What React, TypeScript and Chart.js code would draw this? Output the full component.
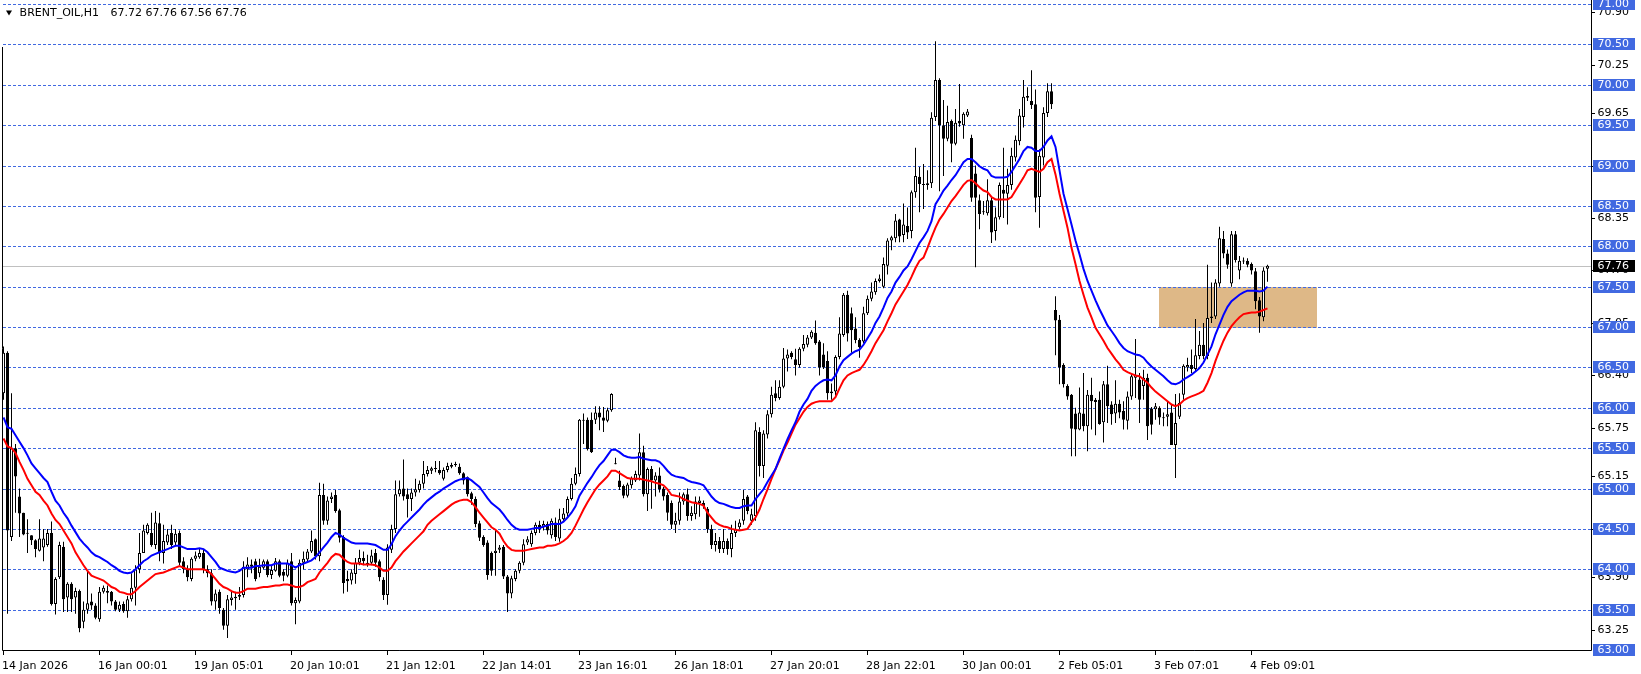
import React, { useEffect, useRef } from 'react';
import { Chart, registerables } from 'chart.js';

Chart.register(...registerables);

// ---- Data (H1 bars, index 0 .. 316) ----
const opens = [
  66.18, 66.68, 64.40, 65.50, 64.90, 64.70, 64.45, 64.42, 64.36, 64.23,
  64.27, 64.30, 64.45, 63.57, 63.90, 64.28, 63.65, 63.82, 63.65, 63.73,
  63.35, 63.50, 63.60, 63.55, 63.38, 63.72, 63.73, 63.72, 63.60, 63.50,
  63.57, 63.48, 63.63, 63.77, 64.00, 64.20, 64.45, 64.45, 64.30, 64.57,
  64.20, 64.33, 64.45, 64.33, 64.45, 64.10, 64.00, 63.88, 64.13, 64.15,
  64.20, 64.00, 63.95, 63.60, 63.72, 63.50, 63.30, 63.62, 63.64, 63.66,
  63.68, 64.00, 64.06, 64.10, 63.95, 64.02, 64.10, 63.93, 63.98, 64.10,
  63.97, 63.92, 64.10, 63.58, 63.60, 64.08, 64.12, 64.22, 64.37, 64.16,
  64.92, 64.60, 64.87, 64.92, 64.73, 64.40, 63.88, 63.86, 63.94, 64.08,
  64.14, 64.08, 64.08, 64.20, 64.10, 63.87, 63.68, 64.24, 64.50, 64.93,
  65.00, 64.93, 64.87, 64.95, 64.98, 65.06, 65.18, 65.22, 65.24, 65.23,
  65.12, 65.23, 65.27, 65.29, 65.27, 65.19, 65.14, 64.94, 64.87, 64.57,
  64.40, 64.33, 64.20, 64.20, 64.24, 64.28, 63.91, 63.70, 63.88, 63.98,
  64.08, 64.33, 64.31, 64.45, 64.55, 64.52, 64.56, 64.42, 64.58, 64.38,
  64.62, 64.69, 64.87, 65.06, 65.18, 65.84, 65.85, 65.85, 65.85, 65.94,
  65.88, 65.84, 65.97, 65.30, 65.10, 65.03, 64.91, 65.04, 65.10, 65.16,
  65.45, 64.93, 65.24, 65.10, 65.16, 65.00, 64.92, 64.82, 64.55, 64.60,
  64.84, 64.93, 64.66, 64.68, 64.82, 64.82, 64.75, 64.50, 64.30, 64.35,
  64.25, 64.35, 64.25, 64.45, 64.52, 64.60, 64.90, 64.60, 64.66, 65.70,
  65.28, 65.67, 65.92, 66.18, 66.12, 66.26, 66.61, 66.68, 66.60, 66.53,
  66.73, 66.78, 66.87, 66.93, 66.82, 66.66, 66.58, 66.18, 66.20, 66.63,
  66.90, 67.40, 67.17, 66.98, 66.84, 66.82, 67.17, 67.35, 67.43, 67.57,
  67.50, 67.76, 68.07, 68.10, 68.33, 68.14, 68.25, 68.19, 68.67, 68.86,
  68.77, 68.76, 68.78, 69.60, 70.06, 69.50, 69.33, 69.55, 69.27, 69.55,
  69.50, 69.62, 69.34, 68.90, 68.57, 68.42, 68.41, 68.57, 68.19, 68.36,
  68.70, 68.65, 68.76, 69.10, 69.30, 69.60, 69.84, 69.80, 69.76, 68.61,
  69.10, 69.65, 69.92, 67.21, 67.09, 66.53, 66.27, 66.16, 65.93, 65.73,
  65.93, 65.77, 66.16, 66.10, 66.10, 65.82, 66.29, 66.04, 65.93, 66.05,
  65.96, 65.84, 66.14, 66.37, 66.35, 66.27, 66.37, 65.99, 65.98, 66.00,
  65.87, 65.89, 65.94, 65.54, 65.89, 66.16, 66.50, 66.53, 66.48, 66.64,
  66.78, 66.64, 67.11, 67.13, 67.54, 68.09, 67.91, 67.54, 68.15, 67.70,
  67.82, 67.82, 67.78, 67.69, 67.33, 67.12, 67.72,
];

const highs = [
  66.76, 66.70, 66.18, 65.55, 65.00, 64.70, 64.62, 64.42, 64.37, 64.62,
  64.50, 64.50, 64.59, 63.90, 64.34, 64.34, 63.84, 63.84, 63.77, 63.75,
  63.60, 63.98, 63.70, 63.58, 63.78, 63.80, 63.80, 63.73, 63.62, 63.60,
  63.60, 63.67, 63.95, 64.05, 64.45, 64.55, 64.57, 64.70, 64.72, 64.70,
  64.55, 64.50, 64.55, 64.50, 64.48, 64.15, 64.05, 64.15, 64.22, 64.25,
  64.25, 64.05, 64.00, 63.75, 63.75, 63.52, 63.68, 63.73, 63.72, 63.78,
  64.10, 64.15, 64.12, 64.13, 64.13, 64.12, 64.12, 64.05, 64.14, 64.12,
  64.00, 64.12, 64.20, 63.65, 64.12, 64.22, 64.25, 64.48, 64.38, 65.07,
  65.06, 64.90, 64.95, 64.98, 64.75, 64.42, 63.98, 64.00, 64.14, 64.24,
  64.22, 64.18, 64.24, 64.25, 64.12, 63.90, 64.31, 64.55, 65.10, 65.10,
  65.36, 65.00, 65.00, 65.12, 65.10, 65.34, 65.28, 65.27, 65.34, 65.34,
  65.26, 65.32, 65.32, 65.33, 65.31, 65.20, 65.15, 64.96, 64.90, 64.60,
  64.42, 64.36, 64.22, 64.50, 64.30, 64.30, 63.93, 63.92, 64.00, 64.10,
  64.37, 64.41, 64.48, 64.58, 64.60, 64.60, 64.59, 64.63, 64.64, 64.75,
  64.76, 64.90, 65.13, 65.26, 65.86, 65.93, 65.88, 65.94, 66.02, 66.02,
  66.01, 66.00, 66.18, 65.38, 65.22, 65.05, 65.07, 65.15, 65.22, 65.68,
  65.53, 65.26, 65.28, 65.20, 65.26, 65.02, 64.95, 64.85, 64.70, 64.95,
  64.95, 65.00, 64.78, 64.90, 64.90, 64.85, 64.77, 64.55, 64.45, 64.40,
  64.50, 64.38, 64.55, 64.60, 64.62, 64.98, 64.92, 64.75, 65.82, 65.76,
  65.72, 65.97, 66.26, 66.34, 66.34, 66.74, 66.72, 66.70, 66.73, 66.75,
  66.90, 66.90, 66.96, 67.08, 66.84, 66.80, 66.70, 66.30, 66.65, 67.12,
  67.42, 67.45, 67.24, 67.12, 66.86, 67.25, 67.39, 67.55, 67.60, 67.65,
  67.86, 68.10, 68.13, 68.40, 68.34, 68.53, 68.48, 68.69, 69.22, 68.98,
  69.02, 68.94, 69.66, 70.54, 70.08, 69.81, 69.74, 69.57, 69.70, 70.01,
  69.66, 69.70, 69.38, 69.00, 68.64, 68.56, 68.83, 68.60, 68.48, 68.79,
  69.22, 68.96, 69.22, 69.37, 69.70, 70.06, 69.97, 70.18, 69.94, 69.20,
  69.72, 70.02, 70.02, 67.38, 67.15, 66.55, 66.29, 66.17, 66.00, 66.25,
  66.43, 66.22, 66.37, 66.12, 66.20, 66.33, 66.52, 66.08, 66.34, 66.10,
  66.08, 66.20, 66.43, 66.85, 66.43, 66.47, 66.42, 66.01, 66.06, 66.02,
  65.94, 66.08, 66.04, 66.17, 66.18, 66.54, 66.62, 66.72, 67.10, 66.95,
  67.05, 67.77, 67.55, 67.59, 68.24, 68.19, 67.96, 68.19, 68.19, 67.88,
  67.86, 67.85, 67.80, 67.73, 67.37, 67.74, 67.77,
];

const lows = [
  66.10, 63.45, 64.35, 64.70, 64.40, 64.42, 64.20, 64.30, 64.15, 64.22,
  64.10, 64.28, 63.55, 63.44, 63.88, 63.47, 63.47, 63.47, 63.45, 63.22,
  63.27, 63.45, 63.50, 63.38, 63.35, 63.70, 63.58, 63.55, 63.48, 63.47,
  63.46, 63.40, 63.60, 63.55, 63.95, 64.20, 64.43, 64.28, 64.25, 64.10,
  64.07, 64.30, 64.25, 64.30, 64.05, 63.95, 63.85, 63.85, 64.10, 64.13,
  63.95, 63.90, 63.55, 63.50, 63.45, 63.25, 63.15, 63.55, 63.50, 63.62,
  63.65, 63.90, 63.95, 63.85, 63.90, 64.00, 63.90, 63.88, 63.97, 63.90,
  63.85, 63.90, 63.55, 63.32, 63.58, 64.00, 64.10, 64.20, 64.12, 64.10,
  64.55, 64.55, 64.82, 64.70, 64.33, 63.70, 63.72, 63.81, 63.82, 64.05,
  64.05, 64.03, 64.05, 64.03, 63.85, 63.62, 63.56, 64.20, 64.45, 64.90,
  64.85, 64.64, 64.72, 64.90, 64.95, 65.00, 65.15, 65.18, 65.20, 65.17,
  65.10, 65.20, 65.25, 65.27, 65.17, 65.05, 64.90, 64.80, 64.52, 64.35,
  64.28, 63.87, 63.92, 63.92, 64.20, 63.88, 63.47, 63.64, 63.85, 63.95,
  64.05, 64.30, 64.28, 64.42, 64.45, 64.48, 64.43, 64.38, 64.35, 64.34,
  64.60, 64.65, 64.85, 65.04, 65.15, 65.55, 65.47, 65.44, 65.80, 65.72,
  65.70, 65.82, 65.95, 65.30, 64.98, 64.88, 64.89, 65.00, 65.08, 65.10,
  64.90, 64.72, 64.75, 64.90, 64.95, 64.85, 64.60, 64.50, 64.45, 64.55,
  64.80, 64.60, 64.60, 64.62, 64.65, 64.75, 64.45, 64.25, 64.22, 64.20,
  64.20, 64.18, 64.15, 64.40, 64.50, 64.55, 64.68, 64.55, 64.60, 65.15,
  65.13, 65.62, 65.88, 66.08, 66.10, 66.24, 66.45, 66.60, 66.40, 66.50,
  66.70, 66.75, 66.85, 66.78, 66.40, 66.48, 66.10, 66.10, 66.15, 66.60,
  66.88, 66.82, 66.68, 66.80, 66.62, 66.80, 67.15, 67.32, 67.40, 67.55,
  67.48, 67.65, 67.95, 68.05, 68.05, 68.05, 68.09, 68.10, 68.60, 68.42,
  68.46, 68.70, 68.72, 69.55, 68.68, 68.87, 69.30, 69.04, 69.25, 69.48,
  69.33, 69.60, 68.55, 67.74, 68.21, 68.39, 68.38, 68.04, 68.07, 68.33,
  68.35, 68.27, 68.70, 69.05, 69.25, 69.47, 69.80, 69.70, 68.42, 68.23,
  69.00, 69.60, 69.70, 66.65, 66.29, 66.25, 66.10, 65.40, 65.40, 65.72,
  65.71, 65.46, 65.73, 65.66, 65.79, 65.57, 65.81, 65.79, 65.81, 65.87,
  65.73, 65.73, 66.10, 66.12, 65.81, 66.10, 65.60, 65.67, 65.85, 65.79,
  65.77, 65.77, 65.54, 65.13, 65.86, 66.10, 66.45, 66.43, 66.45, 66.60,
  66.60, 66.60, 67.05, 67.10, 67.50, 67.85, 67.72, 67.50, 67.80, 67.59,
  67.78, 67.74, 67.65, 67.22, 66.93, 67.07, 67.56,
];

const closes = [
  66.68, 64.48, 65.50, 65.15, 64.69, 64.43, 64.44, 64.36, 64.25, 64.38,
  64.38, 64.45, 63.57, 63.88, 64.30, 63.63, 63.82, 63.63, 63.73, 63.27,
  63.50, 63.58, 63.55, 63.40, 63.72, 63.77, 63.71, 63.60, 63.50, 63.56,
  63.48, 63.63, 63.77, 64.00, 64.20, 64.48, 64.55, 64.30, 64.58, 64.20,
  64.35, 64.43, 64.30, 64.44, 64.08, 64.00, 63.90, 64.13, 64.17, 64.20,
  64.00, 63.95, 63.60, 63.70, 63.52, 63.30, 63.63, 63.65, 63.66, 63.68,
  64.03, 64.06, 64.03, 63.88, 64.03, 64.10, 63.93, 63.99, 64.10, 63.92,
  63.92, 64.08, 63.58, 63.62, 64.08, 64.13, 64.22, 64.35, 64.16, 64.92,
  64.60, 64.85, 64.90, 64.72, 64.39, 63.83, 63.85, 63.96, 64.08, 64.14,
  64.10, 64.06, 64.17, 64.08, 63.90, 63.68, 64.27, 64.50, 64.93, 64.99,
  64.90, 64.87, 64.95, 64.99, 65.06, 65.18, 65.23, 65.25, 65.25, 65.19,
  65.23, 65.28, 65.29, 65.30, 65.19, 65.10, 64.93, 64.87, 64.56, 64.39,
  64.30, 63.93, 63.98, 64.23, 64.27, 63.91, 63.70, 63.89, 63.98, 64.08,
  64.31, 64.37, 64.45, 64.55, 64.50, 64.56, 64.48, 64.60, 64.40, 64.62,
  64.69, 64.87, 65.06, 65.18, 65.85, 65.85, 65.49, 65.45, 65.94, 65.88,
  65.84, 65.97, 66.17, 65.30, 65.02, 64.91, 65.05, 65.13, 65.18, 65.45,
  64.93, 65.24, 65.10, 65.16, 64.99, 64.90, 64.70, 64.55, 64.60, 64.84,
  64.93, 64.66, 64.70, 64.84, 64.85, 64.78, 64.50, 64.30, 64.35, 64.25,
  64.35, 64.25, 64.45, 64.50, 64.58, 64.87, 64.72, 64.68, 65.72, 65.28,
  65.68, 65.92, 66.16, 66.12, 66.26, 66.61, 66.66, 66.63, 66.53, 66.73,
  66.79, 66.87, 66.94, 66.80, 66.50, 66.50, 66.18, 66.20, 66.63, 66.92,
  67.40, 66.92, 66.96, 66.84, 66.75, 67.17, 67.35, 67.44, 67.57, 67.60,
  67.78, 68.07, 68.11, 68.32, 68.12, 68.27, 68.17, 68.67, 68.87, 68.77,
  68.76, 68.78, 69.59, 70.06, 69.50, 69.33, 69.54, 69.27, 69.53, 69.52,
  69.64, 69.67, 68.60, 68.60, 68.40, 68.43, 68.57, 68.17, 68.36, 68.76,
  68.65, 68.76, 69.12, 69.32, 69.62, 69.85, 69.86, 69.75, 68.60, 69.12,
  69.65, 69.92, 69.76, 67.08, 66.50, 66.29, 66.14, 65.74, 65.73, 65.94,
  65.77, 66.16, 66.08, 66.07, 65.80, 66.29, 66.02, 65.92, 66.05, 65.94,
  65.85, 66.14, 66.39, 66.41, 66.10, 66.37, 65.77, 65.79, 66.02, 65.88,
  65.88, 65.92, 65.54, 65.81, 66.06, 66.52, 66.53, 66.48, 66.65, 66.78,
  66.64, 67.11, 67.13, 67.55, 68.10, 67.91, 67.77, 68.15, 67.83, 67.82,
  67.81, 67.77, 67.70, 67.32, 67.13, 67.70, 67.76,
];

// Moving averages as shown on the chart (blue = upper, red = lower)
const maBlue = [
  65.88, 65.76, 65.74, 65.66, 65.58, 65.50, 65.41, 65.31, 65.25, 65.19,
  65.13, 65.08, 64.96, 64.85, 64.79, 64.70, 64.63, 64.54, 64.46, 64.38,
  64.32, 64.27, 64.21, 64.17, 64.15, 64.12, 64.09, 64.05, 64.02, 63.98,
  63.96, 63.95, 63.96, 64.00, 64.05, 64.10, 64.13, 64.17, 64.19, 64.21,
  64.23, 64.25, 64.27, 64.29, 64.29, 64.27, 64.25, 64.25, 64.25, 64.26,
  64.25, 64.21, 64.15, 64.09, 64.02, 64.00, 63.98, 63.97, 63.96, 63.98,
  64.02, 64.02, 64.02, 64.04, 64.04, 64.05, 64.05, 64.05, 64.07, 64.07,
  64.07, 64.07, 64.05, 64.02, 64.05, 64.07, 64.09, 64.11, 64.15, 64.21,
  64.27, 64.33, 64.40, 64.45, 64.43, 64.39, 64.36, 64.33, 64.32, 64.32,
  64.32, 64.32, 64.31, 64.30, 64.27, 64.24, 64.24, 64.31, 64.41, 64.48,
  64.54, 64.59, 64.64, 64.69, 64.74, 64.80, 64.85, 64.89, 64.93, 64.96,
  65.00, 65.03, 65.06, 65.09, 65.11, 65.12, 65.13, 65.10, 65.06, 65.02,
  64.95, 64.88, 64.82, 64.78, 64.74, 64.68, 64.61, 64.55, 64.51, 64.49,
  64.49, 64.49, 64.50, 64.51, 64.51, 64.53, 64.54, 64.56, 64.56, 64.56,
  64.59, 64.64, 64.70, 64.78, 64.91, 64.99, 65.07, 65.14, 65.22, 65.29,
  65.34, 65.41, 65.48, 65.48, 65.45, 65.41, 65.39, 65.38, 65.38, 65.39,
  65.37, 65.36, 65.35, 65.35, 65.33, 65.28, 65.22, 65.17, 65.15, 65.14,
  65.13, 65.10, 65.08, 65.07, 65.06, 65.04, 64.97, 64.90, 64.85, 64.82,
  64.81, 64.79, 64.77, 64.76, 64.76, 64.78, 64.79, 64.79, 64.87, 64.93,
  64.99, 65.08, 65.16, 65.24, 65.37, 65.49, 65.61, 65.72, 65.82, 65.95,
  66.04, 66.11, 66.21, 66.27, 66.31, 66.34, 66.35, 66.34, 66.40, 66.51,
  66.59, 66.63, 66.67, 66.70, 66.72, 66.78, 66.86, 66.94, 67.05, 67.13,
  67.24, 67.36, 67.44, 67.55, 67.62, 67.70, 67.75, 67.84, 67.94, 68.04,
  68.11, 68.19, 68.31, 68.52, 68.60, 68.69, 68.75, 68.82, 68.88, 68.96,
  69.04, 69.08, 69.08, 69.04, 68.99, 68.96, 68.94, 68.87, 68.85, 68.85,
  68.85, 68.86, 68.92, 69.00, 69.08, 69.18, 69.23, 69.22, 69.18, 69.18,
  69.23, 69.31, 69.36, 69.23, 68.94, 68.65, 68.46, 68.27, 68.07, 67.90,
  67.72, 67.57, 67.45, 67.33, 67.22, 67.12, 67.02, 66.95, 66.88, 66.80,
  66.74, 66.70, 66.68, 66.66, 66.65, 66.62, 66.56, 66.51, 66.47, 66.43,
  66.39, 66.34, 66.30, 66.29, 66.31, 66.35, 66.38, 66.41, 66.45, 66.49,
  66.56, 66.66, 66.76, 66.91, 67.03, 67.15, 67.25, 67.32, 67.36, 67.40,
  67.43, 67.45, 67.45, 67.45, 67.44, 67.45, 67.50,
];

const maRed = [
  65.62, 65.52, 65.50, 65.44, 65.33, 65.23, 65.12, 65.04, 64.96, 64.92,
  64.85, 64.79, 64.69, 64.61, 64.56, 64.48, 64.40, 64.32, 64.21, 64.13,
  64.05, 63.98, 63.92, 63.90, 63.88, 63.86, 63.82, 63.78, 63.76, 63.72,
  63.71, 63.69, 63.69, 63.73, 63.78, 63.82, 63.86, 63.90, 63.94, 63.95,
  63.96, 63.98, 64.00, 64.02, 64.04, 64.02, 64.00, 64.00, 64.00, 64.00,
  64.00, 63.98, 63.94, 63.88, 63.82, 63.78, 63.76, 63.73, 63.71, 63.71,
  63.73, 63.76, 63.76, 63.76, 63.77, 63.78, 63.78, 63.79, 63.80, 63.80,
  63.81, 63.81, 63.80, 63.78, 63.78, 63.80, 63.84, 63.86, 63.88, 63.96,
  64.02, 64.08, 64.15, 64.19, 64.18, 64.13, 64.09, 64.07, 64.07, 64.07,
  64.06, 64.06, 64.06, 64.05, 64.02, 63.98, 63.98, 64.02, 64.10, 64.16,
  64.22, 64.27, 64.32, 64.37, 64.42, 64.47, 64.55, 64.60, 64.64, 64.68,
  64.72, 64.76, 64.80, 64.83, 64.85, 64.86, 64.86, 64.83, 64.77, 64.70,
  64.64, 64.58, 64.52, 64.49, 64.44, 64.35, 64.28, 64.24, 64.23, 64.23,
  64.23, 64.24, 64.25, 64.26, 64.27, 64.27, 64.29, 64.29, 64.30, 64.32,
  64.35, 64.39, 64.45, 64.54, 64.64, 64.74, 64.83, 64.91, 64.99, 65.05,
  65.10, 65.15, 65.22, 65.22, 65.19, 65.16, 65.13, 65.12, 65.12, 65.12,
  65.11, 65.10, 65.09, 65.07, 65.06, 65.04, 64.99, 64.92, 64.91, 64.90,
  64.87, 64.85, 64.83, 64.82, 64.81, 64.79, 64.70, 64.64, 64.58, 64.55,
  64.53, 64.52, 64.50, 64.49, 64.48, 64.49, 64.50, 64.58, 64.64, 64.74,
  64.87, 64.99, 65.12, 65.24, 65.35, 65.47, 65.57, 65.68, 65.79, 65.87,
  65.95, 66.01, 66.05, 66.07, 66.08, 66.08, 66.08, 66.08, 66.13, 66.24,
  66.34, 66.40, 66.43, 66.45, 66.47, 66.53, 66.61, 66.70, 66.80, 66.88,
  66.96, 67.07, 67.17, 67.28, 67.36, 67.44, 67.52, 67.62, 67.73, 67.82,
  67.86, 67.98, 68.11, 68.23, 68.33, 68.40, 68.48, 68.56, 68.62, 68.69,
  68.76, 68.81, 68.82, 68.78, 68.73, 68.69, 68.67, 68.61, 68.58, 68.58,
  68.58, 68.58, 68.61, 68.69, 68.77, 68.85, 68.94, 68.96, 68.94, 68.92,
  68.96, 69.04, 69.08, 68.89, 68.65, 68.44, 68.23, 67.98, 67.78, 67.57,
  67.40, 67.24, 67.12, 66.99, 66.91, 66.83, 66.74, 66.67, 66.60, 66.54,
  66.47, 66.44, 66.42, 66.40, 66.39, 66.35, 66.31, 66.25, 66.20, 66.16,
  66.12, 66.08, 66.04, 66.02, 66.04, 66.09, 66.12, 66.14, 66.16, 66.18,
  66.21, 66.31, 66.43, 66.58, 66.71, 66.83, 66.93, 67.01, 67.07, 67.12,
  67.16, 67.17, 67.18, 67.18, 67.19, 67.21, 67.23,
];

const timeLabels = [
  '14 Jan 2026', '16 Jan 00:01', '19 Jan 05:01', '20 Jan 10:01', '21 Jan 12:01',
  '22 Jan 14:01', '23 Jan 16:01', '26 Jan 18:01', '27 Jan 20:01', '28 Jan 22:01',
  '30 Jan 00:01', '2 Feb 05:01', '3 Feb 07:01', '4 Feb 09:01',
];
const barsPerLabel = 24;

const levelLines = [71.0, 70.5, 70.0, 69.5, 69.0, 68.5, 68.0, 67.5, 67.0, 66.5, 66.0, 65.5, 65.0, 64.5, 64.0, 63.5, 63.0];
const axisTicks = [70.9, 70.25, 69.65, 69.0, 68.35, 67.7, 67.05, 66.4, 65.75, 65.15, 64.5, 63.9, 63.25];
const lastPrice = 67.76;
const zoneFromBar = 288.9;
const zoneToBar = 328.5;
const zoneHigh = 67.5;
const zoneLow = 67.0;
const symbolTitle = 'BRENT_OIL,H1';
const ohlcTitle = '67.72 67.76 67.56 67.76';

const FONT = '11px "DejaVu Sans", Tahoma, sans-serif';

const mt4Overlay = {
  id: 'mt4Overlay',
  beforeDatasetsDraw(chart: any) {
    const { ctx, chartArea: a, scales } = chart;
    const x = scales.x;
    const y = scales.y;
    ctx.save();
    // zone rectangle
    const zx0 = x.getPixelForValue(zoneFromBar);
    const zx1 = x.getPixelForValue(zoneToBar);
    const zy0 = Math.round(y.getPixelForValue(zoneHigh));
    const zy1 = Math.round(y.getPixelForValue(zoneLow));
    ctx.fillStyle = '#DEB887';
    ctx.fillRect(Math.round(zx0), zy0, Math.round(zx1 - zx0), zy1 - zy0 + 1);
    // last price line
    const py = Math.round(y.getPixelForValue(lastPrice)) + 0.5;
    ctx.strokeStyle = '#C0C0C0';
    ctx.lineWidth = 1;
    ctx.beginPath();
    ctx.moveTo(a.left, py);
    ctx.lineTo(a.right, py);
    ctx.stroke();
    // dashed level lines
    ctx.strokeStyle = '#4169E1';
    ctx.setLineDash([3, 2]);
    for (const p of levelLines) {
      const yy = Math.round(y.getPixelForValue(p)) + 0.5;
      ctx.beginPath();
      ctx.moveTo(a.left, yy);
      ctx.lineTo(a.right, yy);
      ctx.stroke();
    }
    ctx.restore();
  },
  afterDraw(chart: any) {
    const { ctx, chartArea: a, scales } = chart;
    const x = scales.x;
    const y = scales.y;
    ctx.save();
    // frame
    ctx.strokeStyle = '#000';
    ctx.lineWidth = 1;
    ctx.setLineDash([]);
    ctx.beginPath();
    ctx.moveTo(a.left - 0.5, 47);
    ctx.lineTo(a.left - 0.5, a.bottom + 0.5);
    ctx.lineTo(a.right + 0.5, a.bottom + 0.5);
    ctx.lineTo(a.right + 0.5, 0);
    ctx.stroke();

    ctx.font = FONT;
    ctx.textBaseline = 'middle';
    ctx.textAlign = 'left';

    // time axis
    ctx.fillStyle = '#000';
    timeLabels.forEach((t, k) => {
      const px = Math.floor(x.getPixelForValue(k * barsPerLabel)) + 0.5;
      ctx.beginPath();
      ctx.moveTo(px, a.bottom);
      ctx.lineTo(px, a.bottom + 5);
      ctx.stroke();
      ctx.fillText(t, px - 1.5, a.bottom + 16);
    });

    // price axis ticks
    const lx = a.right + 6.5;
    for (const p of axisTicks) {
      const yy = Math.round(y.getPixelForValue(p)) + 0.5;
      ctx.beginPath();
      ctx.moveTo(a.right, yy);
      ctx.lineTo(a.right + 4, yy);
      ctx.stroke();
      ctx.fillStyle = '#000';
      ctx.fillText(p.toFixed(2), lx, yy);
    }
    // level labels
    for (const p of levelLines) {
      const yy = Math.round(y.getPixelForValue(p));
      ctx.fillStyle = '#4169E1';
      ctx.fillRect(a.right + 2, yy - 6, 42, 12);
      ctx.fillStyle = '#FFFFFF';
      ctx.fillText(p.toFixed(2), lx, yy + 0.5);
    }
    // last price label
    {
      const yy = Math.round(y.getPixelForValue(lastPrice));
      ctx.fillStyle = '#000';
      ctx.fillRect(a.right + 2, yy - 6, 42, 12);
      ctx.fillStyle = '#FFFFFF';
      ctx.fillText(lastPrice.toFixed(2), lx, yy + 0.5);
    }

    // title
    ctx.fillStyle = '#FFFFFF';
    ctx.fillRect(0, 6, 260, 14);
    ctx.fillStyle = '#000';
    ctx.beginPath();
    ctx.moveTo(6, 10.5);
    ctx.lineTo(12, 10.5);
    ctx.lineTo(9, 15.5);
    ctx.closePath();
    ctx.fill();
    ctx.fillText(symbolTitle, 19.6, 13.5);
    ctx.fillText(ohlcTitle, 110.4, 13.5);
    ctx.restore();
  },
};

export default function App() {
  const canvasRef = useRef<HTMLCanvasElement | null>(null);

  useEffect(() => {
    const canvas = canvasRef.current;
    if (!canvas) return;
    const idx = closes.map((_, i) => i);
    const wickData = idx.map((i) => ({ x: i, y: [lows[i], highs[i]] }));
    const bodyData = idx.map((i) => ({ x: i, y: [opens[i], closes[i]] }));
    const bodyColors = idx.map((i) => (closes[i] >= opens[i] ? '#FFFFFF' : '#000000'));
    const blueData = idx.map((i) => ({ x: i, y: maBlue[i] }));
    const redData = idx.map((i) => ({ x: i, y: maRed[i] }));

    const chart = new Chart(canvas, {
      type: 'bar',
      data: {
        datasets: [
          {
            type: 'line',
            label: 'MA fast',
            data: blueData,
            borderColor: '#0000FF',
            borderWidth: 2,
            pointRadius: 0,
            tension: 0,
            order: 0,
          } as any,
          {
            type: 'line',
            label: 'MA slow',
            data: redData,
            borderColor: '#FF0000',
            borderWidth: 2,
            pointRadius: 0,
            tension: 0,
            order: 0,
          } as any,
          {
            type: 'bar',
            label: 'body',
            data: bodyData,
            backgroundColor: bodyColors,
            borderColor: '#000000',
            borderWidth: 1,
            borderSkipped: false,
            barThickness: 3,
            minBarLength: 1,
            grouped: false,
            inflateAmount: 0,
            order: 1,
          } as any,
          {
            type: 'bar',
            label: 'wick',
            data: wickData,
            backgroundColor: '#000000',
            borderWidth: 0,
            barThickness: 1,
            minBarLength: 1,
            grouped: false,
            inflateAmount: 0,
            order: 2,
          } as any,
        ],
      },
      options: {
        animation: false,
        responsive: false,
        devicePixelRatio: 1,
        events: [],
        layout: { padding: { left: 3, right: 50, top: 4, bottom: 24 } },
        scales: {
          x: { type: 'linear', min: -0.125, max: 396.875, display: false, offset: false },
          y: { type: 'linear', min: 63, max: 71, display: false },
        },
        plugins: {
          legend: { display: false },
          tooltip: { enabled: false },
        },
      } as any,
      plugins: [mt4Overlay],
    });
    return () => chart.destroy();
  }, []);

  return (
    <div style={{ position: 'fixed', left: 0, top: 0, width: 1641, height: 674, background: '#FFFFFF' }}>
      <canvas ref={canvasRef} width={1641} height={674} style={{ display: 'block', width: 1641, height: 674 }} />
    </div>
  );
}
